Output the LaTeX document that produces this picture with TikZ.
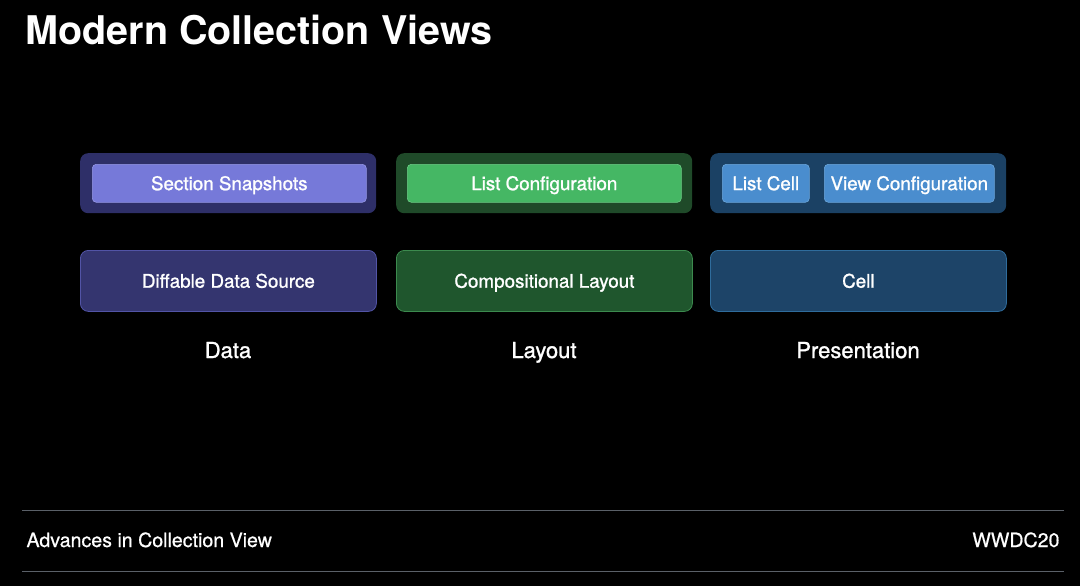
\documentclass[tikz,border=0pt]{standalone}
\usepackage{fontspec}
\setmainfont{TeX Gyre Heros}
\newfontfamily\medfont[FakeBold=1.2]{TeX Gyre Heros}
\newfontfamily\lightmed[FakeBold=0.6]{TeX Gyre Heros}
\begin{document}
\begin{tikzpicture}[x=1pt,y=-1pt,
  outer/.style={draw=none, rounded corners=8pt, inner sep=0pt, anchor=north west},
  bottombox/.style={rounded corners=8pt, line width=0.8pt, inner sep=0pt, anchor=north west,
     text=white, font=\medfont\fontsize{18.8}{22}\selectfont, text height=13.6pt, text depth=0pt},
  innerbox/.style={rounded corners=4pt, line width=0.6pt, inner sep=0pt, anchor=north west,
     text=white, font=\medfont\fontsize{18.8}{22}\selectfont, text height=13.6pt, text depth=0pt},
  collabel/.style={text=white, font=\medfont\fontsize{22}{26}\selectfont, anchor=base},
  footer/.style={text=white, font=\lightmed\fontsize{19.6}{22}\selectfont, anchor=base west},
  rule/.style={draw=ruleC, line width=1pt}
]
\definecolor{ruleC}{HTML}{5A6068}
\definecolor{dOuter}{HTML}{2E2F68}
\definecolor{dInner}{HTML}{7679D9}
\definecolor{dInnerB}{HTML}{9597E6}
\definecolor{dBottom}{HTML}{34356F}
\definecolor{dBottomB}{HTML}{5254A6}
\definecolor{lOuter}{HTML}{1F4A29}
\definecolor{lInner}{HTML}{45B764}
\definecolor{lInnerB}{HTML}{6CCB86}
\definecolor{lBottom}{HTML}{1F562D}
\definecolor{lBottomB}{HTML}{3C8A4E}
\definecolor{pOuter}{HTML}{1B4164}
\definecolor{pInner}{HTML}{4A8DCE}
\definecolor{pInnerB}{HTML}{6BA6DB}
\definecolor{pBottom}{HTML}{1D4468}
\definecolor{pBottomB}{HTML}{2F6C9C}

\fill[black] (0,0) rectangle (1080,586);
\useasboundingbox (0,0) rectangle (1080,586);

\node[anchor=base west, text=white, font=\fontsize{39.5}{44}\selectfont\bfseries] (title) at (22,45) {Modern Collection Views};

% Data column
\node[outer, fill=dOuter, minimum width=296pt, minimum height=60pt] (dout) at (80,153) {};
\node[innerbox, fill=dInner, draw=dInnerB, minimum width=274pt, minimum height=38pt] (snap) at (92,164) {Section Snapshots};
\node[bottombox, fill=dBottom, draw=dBottomB, minimum width=296pt, minimum height=61pt] (dds) at (80,250) {Diffable Data Source};
\node[collabel] (data) at (228,358) {Data};

% Layout column
\node[outer, fill=lOuter, minimum width=296pt, minimum height=60pt] (lout) at (396,153) {};
\node[innerbox, fill=lInner, draw=lInnerB, minimum width=274pt, minimum height=38pt] (lconf) at (407,164) {List Configuration};
\node[bottombox, fill=lBottom, draw=lBottomB, minimum width=296pt, minimum height=61pt] (comp) at (396,250) {Compositional Layout};
\node[collabel] (layout) at (544,358) {Layout};

% Presentation column
\node[outer, fill=pOuter, minimum width=296pt, minimum height=60pt] (pout) at (710,153) {};
\node[innerbox, fill=pInner, draw=pInnerB, minimum width=87pt, minimum height=38pt] (lcell) at (722,164) {List Cell};
\node[innerbox, fill=pInner, draw=pInnerB, minimum width=170pt, minimum height=38pt] (vconf) at (824,164) {View Configuration};
\node[bottombox, fill=pBottom, draw=pBottomB, minimum width=296pt, minimum height=61pt] (cell) at (710,250) {Cell};
\node[collabel] (pres) at (858,358) {Presentation};

% Footer
\coordinate (r1a) at (22,510);
\coordinate (r1b) at (1064,510);
\coordinate (r2a) at (22,571);
\coordinate (r2b) at (1064,571);
\draw[rule] (r1a) -- (r1b);
\draw[rule] (r2a) -- (r2b);
\node[footer] (adv) at (23,547) {Advances in Collection View};
\node[footer, anchor=base east] (wwdc) at (1063,547) {WWDC20};
\end{tikzpicture}
\end{document}
